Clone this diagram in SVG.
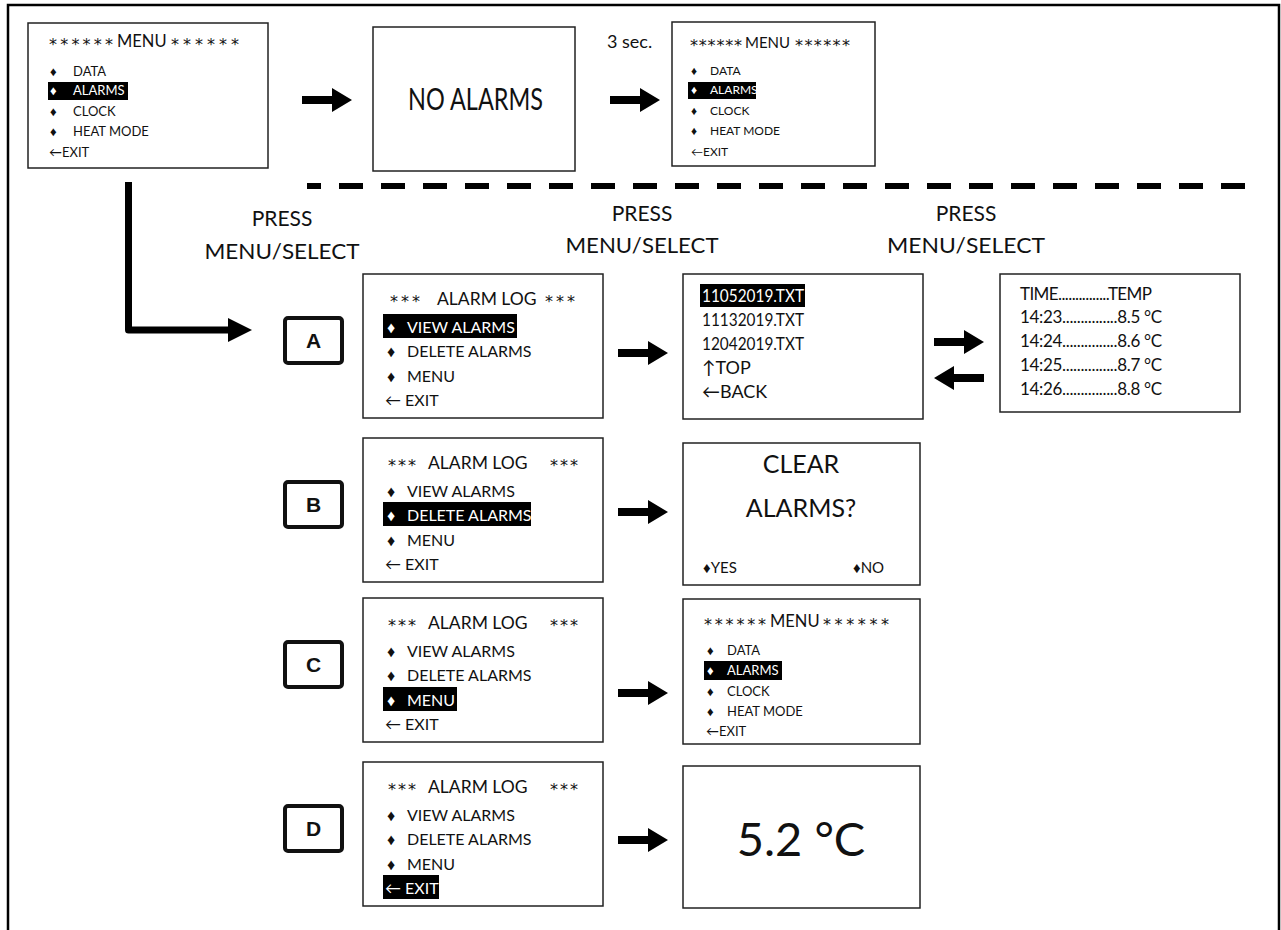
<svg xmlns="http://www.w3.org/2000/svg" width="1281" height="930" viewBox="0 0 1281 930">
<style>
text{font-family:Lato,"Liberation Sans",sans-serif;fill:#111}
.box{fill:#fff;stroke:#222;stroke-width:1.5}
.lbl{fill:#fff;stroke:#111;stroke-width:4}
.lt{font-family:"Liberation Sans",sans-serif;font-weight:bold;font-size:21px;text-anchor:middle}
.hl{fill:#000}
.w{fill:#fff}
.m1{font-size:13px}
.t16{font-size:16px}
.t17{font-size:17px}
.t18{font-size:18px}
.ast{font-family:"DejaVu Sans",sans-serif;font-size:16px}
.ttl{font-size:17.5px}
.press{font-size:21px;text-anchor:middle}
.mid{text-anchor:middle}
.conn{fill:none;stroke:#000;stroke-width:7;stroke-linejoin:round}
</style>
<defs>
<path id="arr" d="M0,-4 H30 V-12 L50,0 L30,12 V4 H0 Z" fill="#000"/>
</defs>
<rect x="0" y="0" width="1281" height="930" fill="#fff"/>
<path d="M8,940 V5 H1279 V940" fill="none" stroke="#000" stroke-width="2.5"/>

<g id="menu1">
<rect class="box" x="28" y="23" width="240" height="145"/>
<text x="49" y="50" class="ast" textLength="64">******</text>
<text x="117" y="47" font-size="16.5">MENU</text>
<text x="171" y="50" class="ast" textLength="68">******</text>
<rect class="hl" x="48" y="82" width="80" height="18"/>
<g class="m1">
<text x="50" y="76">♦</text><text x="73" y="76">DATA</text>
<text x="50" y="95" class="w">♦</text><text x="73" y="95" class="w">ALARMS</text>
<text x="50" y="116">♦</text><text x="73" y="116">CLOCK</text>
<text x="50" y="136">♦</text><text x="73" y="136">HEAT MODE</text>
<text x="49" y="157">←EXIT</text>
</g>
</g>

<g id="noalarms">
<rect class="box" x="373" y="27" width="202" height="144"/>
<text x="408" y="110" font-size="30" textLength="135" lengthAdjust="spacingAndGlyphs">NO ALARMS</text>
</g>

<g id="menu2">
<rect class="box" x="672" y="22" width="203" height="144"/>
<text x="690" y="51" class="ast" font-size="14.5" textLength="52">******</text>
<text x="745" y="48" font-size="15">MENU</text>
<text x="795" y="51" class="ast" font-size="14.5" textLength="55">******</text>
<rect class="hl" x="688" y="82" width="68" height="17"/>
<g font-size="12px">
<text x="691" y="75">♦</text><text x="710" y="75">DATA</text>
<text x="691" y="94" class="w">♦</text><text x="710" y="94" class="w">ALARMS</text>
<text x="691" y="115">♦</text><text x="710" y="115">CLOCK</text>
<text x="691" y="135">♦</text><text x="710" y="135">HEAT MODE</text>
<text x="691" y="156">←EXIT</text>
</g>
</g>

<text x="607" y="48" font-size="18">3 sec.</text>

<g id="labels">
<text class="press" x="282" y="226">PRESS</text>
<text class="press" x="282" y="259" textLength="155" lengthAdjust="spacingAndGlyphs">MENU/SELECT</text>
<text class="press" x="642" y="221">PRESS</text>
<text class="press" x="642" y="253" textLength="153" lengthAdjust="spacingAndGlyphs">MENU/SELECT</text>
<text class="press" x="966" y="221">PRESS</text>
<text class="press" x="966" y="253" textLength="158" lengthAdjust="spacingAndGlyphs">MENU/SELECT</text>
</g>

<g id="A">
<rect class="lbl" x="285" y="318" width="57" height="45" rx="3"/>
<text class="lt" x="313.5" y="348">A</text>
</g>
<g id="logA">
<rect class="box" x="363" y="274" width="240" height="144"/>
<text x="390" y="307" class="ast" textLength="30">***</text><text x="437" y="305" class="ttl">ALARM LOG</text><text x="545" y="307" class="ast" textLength="30">***</text>
<rect class="hl" x="383" y="314" width="134" height="24"/>
<g class="t16">
<text x="387" y="333" class="w">♦</text><text x="407" y="333" class="w">VIEW ALARMS</text>
<text x="387" y="357">♦</text><text x="407" y="357">DELETE ALARMS</text>
<text x="387" y="382">♦</text><text x="407" y="382">MENU</text>
<text x="385" y="406">← EXIT</text>
</g>
</g>
<g id="files">
<rect class="box" x="683" y="274" width="240" height="145"/>
<rect class="hl" x="700" y="284" width="105" height="23"/>
<g class="t18">
<text x="702" y="302" class="w" textLength="102" lengthAdjust="spacingAndGlyphs">11052019.TXT</text>
<text x="702" y="326" textLength="102" lengthAdjust="spacingAndGlyphs">11132019.TXT</text>
<text x="702" y="350" textLength="102" lengthAdjust="spacingAndGlyphs">12042019.TXT</text>
<text x="702" y="374">↑TOP</text>
<text x="702" y="398">←BACK</text>
</g>
</g>
<g id="data">
<rect class="box" x="1000" y="274" width="240" height="138"/>
<g class="t17">
<text x="1020" y="300" textLength="132">TIME...............TEMP</text>
<text x="1020" y="323" textLength="142">14:23...............8.5 °C</text>
<text x="1020" y="347" textLength="142">14:24...............8.6 °C</text>
<text x="1020" y="371" textLength="142">14:25...............8.7 °C</text>
<text x="1020" y="395" textLength="142">14:26...............8.8 °C</text>
</g>
</g>

<g id="B">
<rect class="lbl" x="285" y="482" width="57" height="45" rx="3"/>
<text class="lt" x="313.5" y="512">B</text>
</g>
<g id="logB">
<rect class="box" x="363" y="438" width="240" height="144"/>
<text x="388" y="471" class="ast" textLength="28">***</text><text x="428" y="469" class="ttl">ALARM LOG</text><text x="550" y="471" class="ast" textLength="28">***</text>
<rect class="hl" x="383" y="502" width="148" height="24"/>
<g class="t16">
<text x="387" y="497">♦</text><text x="407" y="497">VIEW ALARMS</text>
<text x="387" y="521" class="w">♦</text><text x="407" y="521" class="w">DELETE ALARMS</text>
<text x="387" y="546">♦</text><text x="407" y="546">MENU</text>
<text x="385" y="570">← EXIT</text>
</g>
</g>
<g id="clear">
<rect class="box" x="683" y="443" width="237" height="142"/>
<text x="801" y="473" font-size="25" class="mid">CLEAR</text>
<text x="801" y="517" font-size="25" class="mid">ALARMS?</text>
<text x="703" y="573" font-size="15">♦YES</text>
<text x="853" y="573" font-size="15">♦NO</text>
</g>

<g id="C">
<rect class="lbl" x="285" y="642" width="57" height="45" rx="3"/>
<text class="lt" x="313.5" y="672">C</text>
</g>
<g id="logC">
<rect class="box" x="363" y="598" width="240" height="144"/>
<text x="388" y="631" class="ast" textLength="28">***</text><text x="428" y="629" class="ttl">ALARM LOG</text><text x="550" y="631" class="ast" textLength="28">***</text>
<rect class="hl" x="383" y="687" width="74" height="24"/>
<g class="t16">
<text x="387" y="657">♦</text><text x="407" y="657">VIEW ALARMS</text>
<text x="387" y="681">♦</text><text x="407" y="681">DELETE ALARMS</text>
<text x="387" y="706" class="w">♦</text><text x="407" y="706" class="w">MENU</text>
<text x="385" y="730">← EXIT</text>
</g>
</g>
<g id="menu3">
<rect class="box" x="683" y="599" width="237" height="145"/>
<text x="704" y="630" class="ast" textLength="62">******</text>
<text x="770" y="627" font-size="16.5">MENU</text>
<text x="823" y="630" class="ast" textLength="66">******</text>
<rect class="hl" x="704" y="661" width="78" height="19"/>
<g class="m1">
<text x="707" y="655">♦</text><text x="727" y="655">DATA</text>
<text x="707" y="675" class="w">♦</text><text x="727" y="675" class="w">ALARMS</text>
<text x="707" y="696">♦</text><text x="727" y="696">CLOCK</text>
<text x="707" y="716">♦</text><text x="727" y="716">HEAT MODE</text>
<text x="706" y="736">←EXIT</text>
</g>
</g>

<g id="D">
<rect class="lbl" x="285" y="806" width="57" height="45" rx="3"/>
<text class="lt" x="313.5" y="836">D</text>
</g>
<g id="logD">
<rect class="box" x="363" y="762" width="240" height="144"/>
<text x="388" y="795" class="ast" textLength="28">***</text><text x="428" y="793" class="ttl">ALARM LOG</text><text x="550" y="795" class="ast" textLength="28">***</text>
<rect class="hl" x="383" y="875" width="56" height="24"/>
<g class="t16">
<text x="387" y="821">♦</text><text x="407" y="821">VIEW ALARMS</text>
<text x="387" y="845">♦</text><text x="407" y="845">DELETE ALARMS</text>
<text x="387" y="870">♦</text><text x="407" y="870">MENU</text>
<text x="385" y="894" class="w">← EXIT</text>
</g>
</g>
<g id="temp">
<rect class="box" x="683" y="766" width="237" height="142"/>
<text x="801" y="856" font-size="47" class="mid">5.2 °C</text>
</g>

<g id="connectors">
<use href="#arr" transform="translate(302,100)"/>
<use href="#arr" transform="translate(610,100)"/>
<path d="M1245,186 H307" stroke="#000" stroke-width="6" stroke-dasharray="24 18" fill="none"/>
<path class="conn" d="M128.5,182 V330 H232"/>
<path d="M228,318 L252,330 L228,342 Z" fill="#000"/>
<use href="#arr" transform="translate(618,353)"/>
<use href="#arr" transform="translate(934,342)"/>
<use href="#arr" transform="translate(984,378) scale(-1,1)"/>
<use href="#arr" transform="translate(618,512)"/>
<use href="#arr" transform="translate(618,693)"/>
<use href="#arr" transform="translate(618,840)"/>
</g>
</svg>
